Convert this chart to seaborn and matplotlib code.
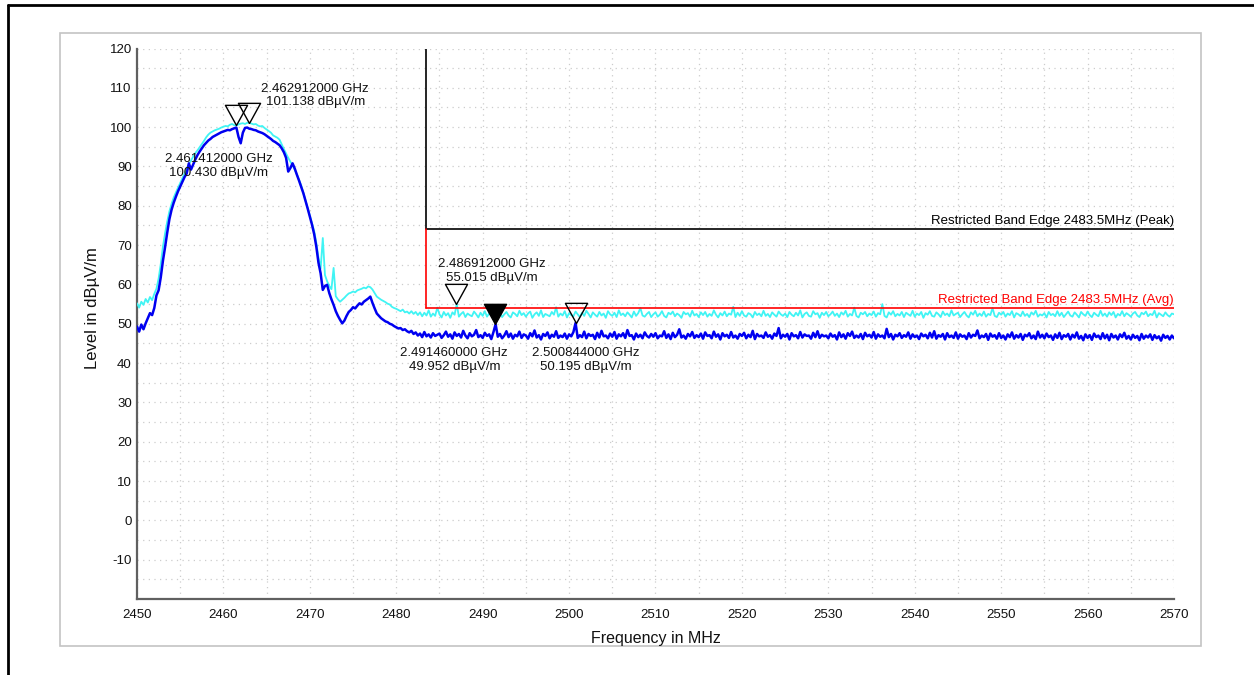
import numpy as np
import matplotlib
matplotlib.use("Agg")
import matplotlib.pyplot as plt
from matplotlib.lines import Line2D
from matplotlib.patches import Rectangle
from matplotlib.ticker import MultipleLocator, FixedLocator
import seaborn as sns

# ---------------------------------------------------------------- data
# Sweep grid of the analyser (MHz), 0.25 MHz per bin
freq_mhz = np.arange(2450.0, 2570.001, 0.25)

# Peak detector trace (dBuV/m), one row = 5 MHz
peak_dbuv = [
    55.2, 54.1, 55.6, 54.8, 56.3, 55.4, 56.8, 56.0, 57.6, 58.9, 61.5, 65.2, 69.6, 73.0, 76.0, 78.6, 80.5, 82.1, 83.4, 84.6,
    85.8, 87.0, 88.2, 89.4, 90.6, 91.5, 92.5, 93.4, 94.1, 94.9, 95.7, 96.5, 97.4, 98.1, 98.6, 98.9, 99.2, 99.4, 99.6, 99.9,
    100.1, 100.3, 100.2, 100.6, 100.8, 100.5, 100.4, 100.7, 100.9, 101.0, 100.8, 101.1, 101.1, 100.9, 100.7, 100.8, 100.4, 100.2, 100.3, 99.8,
    99.4, 99.0, 98.6, 97.9, 97.6, 97.3, 96.8, 95.6, 94.4, 93.3, 92.2, 91.2, 90.3, 89.2, 88.0, 86.6, 85.2, 83.3, 81.5, 79.4,
    77.5, 75.5, 73.6, 70.6, 66.8, 64.0, 71.8, 62.4, 60.8, 59.6, 58.8, 64.2, 57.0, 56.2, 55.6, 56.1, 56.6, 57.2, 57.7, 57.9,
    58.2, 58.0, 58.5, 58.7, 58.9, 59.2, 59.0, 59.5, 59.3, 58.7, 57.8, 56.9, 56.5, 56.1, 55.8, 55.5, 55.1, 54.9, 54.3, 54.0,
    53.8, 53.5, 53.2, 53.6, 52.9, 53.1, 52.6, 53.2, 52.5, 53.0, 52.2, 52.9, 51.9, 52.8, 52.1, 53.4, 51.8, 52.6, 52.0, 54.1,
    52.4, 51.6, 53.0, 52.1, 52.7, 51.5, 52.9, 52.3, 55.0, 51.8, 52.5, 53.0, 51.7, 52.6, 52.2, 51.9, 53.1, 52.4, 51.6, 52.8,
    52.0, 53.2, 51.8, 52.6, 52.3, 51.4, 53.5, 52.2, 52.8, 51.7, 52.4, 53.0, 52.1, 51.6, 52.9, 52.5, 51.9, 53.3, 52.2, 52.7,
    51.8, 52.6, 53.1, 51.5, 52.4, 52.9, 52.0, 53.4, 51.7, 52.5, 52.2, 51.9, 53.0, 52.3, 54.2, 51.8, 52.6, 52.1, 53.2, 51.6,
    52.7, 52.2, 51.9, 53.1, 52.4, 51.7, 52.8, 52.0, 53.3, 52.5, 51.6, 52.9, 52.3, 51.8, 53.0, 52.1, 52.6, 51.5, 53.2, 52.4,
    52.0, 52.8, 51.7, 53.4, 52.2, 52.6, 51.9, 52.9, 52.3, 51.6, 53.1, 52.0, 52.7, 54.0, 52.1, 51.8, 52.5, 53.0, 51.7, 52.4,
    52.9, 51.8, 52.3, 53.2, 52.0, 51.6, 52.8, 52.4, 53.1, 51.9, 52.6, 52.2, 51.5, 53.0, 52.4, 52.7, 51.8, 53.3, 52.1, 52.5,
    51.7, 52.9, 52.2, 53.0, 51.8, 52.5, 52.0, 53.4, 52.3, 51.6, 52.7, 52.1, 53.1, 51.9, 52.6, 52.3, 54.3, 51.7, 52.8, 52.0,
    53.2, 52.1, 51.8, 52.7, 52.4, 51.6, 53.0, 52.2, 52.6, 51.9, 53.3, 52.0, 52.5, 51.7, 52.9, 52.3, 51.8, 53.1, 52.4, 52.0,
    52.6, 51.7, 53.0, 52.3, 51.9, 52.8, 52.1, 53.4, 51.6, 52.5, 52.9, 52.0, 51.8, 53.2, 52.4, 52.7, 51.5, 52.8, 52.2, 53.0,
    51.9, 52.4, 53.1, 52.0, 52.6, 51.7, 52.9, 52.3, 53.3, 51.8, 52.5, 52.1, 54.1, 52.0, 51.6, 52.8, 52.4, 53.0, 51.9, 52.6,
    52.2, 53.1, 51.8, 52.7, 52.4, 55.0, 52.0, 51.6, 52.9, 52.3, 53.2, 51.9, 52.5, 52.1, 53.0, 51.7, 52.8, 52.4, 52.0, 53.3,
    51.8, 52.6, 52.2, 53.0, 51.5, 52.7, 52.3, 53.2, 52.0, 51.8, 52.9, 52.4, 51.7, 53.1, 52.2, 52.6, 51.9, 53.4, 52.1, 52.5,
    52.8, 51.7, 52.4, 53.0, 52.1, 51.6, 52.9, 52.3, 53.3, 51.9, 52.6, 52.0, 53.1, 51.8, 52.5, 52.2, 54.0, 52.0, 51.7, 52.8,
    52.3, 53.0, 51.8, 52.6, 52.2, 53.2, 51.6, 52.7, 52.4, 51.9, 53.1, 52.0, 52.5, 51.7, 52.9, 52.3, 53.3, 51.8, 52.4, 52.1,
    52.7, 51.6, 53.0, 52.2, 52.5, 51.9, 53.2, 52.0, 52.8, 51.7, 52.4, 53.1, 52.1, 51.8, 52.9, 52.3, 51.6, 53.0, 52.4, 52.0,
    53.1, 52.2, 51.7, 52.8, 52.3, 51.9, 53.3, 52.0, 52.6, 51.8, 52.9, 52.2, 53.0, 51.6, 52.5, 52.1, 53.2, 51.9, 52.7, 52.3,
    51.8, 52.6, 53.0, 52.1, 51.7, 52.8, 52.4, 53.1, 51.9, 52.5, 52.2, 53.3, 51.6, 52.7, 52.3, 51.9, 52.9, 52.2, 51.8, 52.6,
    52.4,
]

# Average detector trace (dBuV/m), one row = 5 MHz
avg_dbuv = [
    49.3, 48.0, 49.8, 48.6, 50.1, 51.4, 52.7, 52.2, 54.0, 57.2, 58.5, 61.8, 66.0, 69.5, 73.2, 76.6, 79.0, 80.8, 82.3, 83.7,
    84.9, 86.1, 87.3, 88.2, 90.8, 89.2, 90.5, 91.8, 92.9, 93.8, 94.6, 95.4, 96.0, 96.6, 97.0, 97.5, 97.8, 98.1, 98.4, 98.7,
    98.9, 99.1, 99.3, 99.2, 99.5, 99.7, 99.9, 97.5, 95.9, 98.6, 99.8, 99.9, 99.6, 99.5, 99.3, 99.2, 98.9, 98.7, 98.5, 98.2,
    97.8, 97.4, 97.0, 96.5, 96.2, 95.8, 95.4, 94.6, 93.6, 92.2, 88.7, 89.6, 90.8, 89.5, 87.9, 86.4, 84.8, 83.2, 81.3, 79.3,
    77.3, 75.2, 72.8, 69.6, 65.5, 62.8, 58.6, 59.6, 59.9, 57.8, 56.2, 54.8, 53.2, 52.0, 51.0, 50.1, 50.8, 52.0, 53.0, 53.5,
    54.2, 53.9, 54.6, 55.2, 54.9, 55.6, 56.0, 56.4, 56.9, 55.3, 53.9, 52.6, 52.0, 51.4, 51.0, 50.6, 50.4, 50.0, 49.8, 49.4,
    49.1, 48.8, 48.9, 48.4, 48.6, 48.1, 47.8, 48.2, 47.4, 47.8, 47.0, 47.5, 46.6, 47.9, 46.8, 47.3, 46.5, 47.6, 46.9, 47.2,
    47.5, 46.4, 47.1, 48.0, 46.7, 47.3, 46.2, 47.8, 46.9, 47.4, 46.5, 48.2, 47.0, 46.3, 47.6, 46.8, 47.2, 48.4, 46.6, 47.1,
    46.4, 47.7, 46.9, 47.3, 46.1, 47.9, 49.9, 46.7, 47.4, 46.3, 47.0, 48.1, 46.6, 47.5, 46.2, 47.2, 46.8, 48.0, 46.4, 47.3,
    47.0, 46.2, 47.6, 46.8, 48.3, 46.5, 47.1, 46.0, 47.4, 46.9, 47.8, 46.3, 47.2, 46.7, 48.1, 46.4, 47.0, 46.6, 47.5, 46.2,
    47.3, 46.8, 47.9, 50.2, 46.4, 47.1, 46.6, 48.0, 46.3, 47.4, 46.9, 47.2, 46.1, 47.7, 46.5, 48.2, 46.8, 47.0, 46.3, 47.5,
    46.7, 47.9, 46.2, 47.3, 46.8, 47.6, 46.4, 48.4, 46.9, 47.1, 46.0, 47.5, 46.6, 47.2, 46.3, 47.8, 46.9, 46.5, 47.4, 46.7,
    47.6, 46.3, 47.0, 46.8, 48.1, 46.4, 47.3, 46.1, 47.7, 46.6, 47.2, 48.6, 46.5, 47.0, 46.2, 47.4, 46.8, 47.9, 46.4, 47.1,
    46.6, 47.5, 46.2, 47.8, 46.9, 47.1, 46.3, 48.0, 46.7, 47.3, 46.0, 47.6, 46.8, 47.2, 46.4, 47.9, 46.5, 47.0, 46.2, 47.4,
    46.9, 47.7, 46.3, 47.2, 46.6, 48.2, 46.1, 47.4, 46.8, 47.0, 46.4, 47.8, 46.7, 47.1, 46.2, 47.5, 46.9, 48.9, 46.3, 47.2,
    46.7, 47.4, 46.0, 47.6, 46.8, 47.1, 46.3, 47.9, 46.5, 47.3, 46.9, 47.0, 46.2, 47.7, 46.6, 48.1, 46.4, 47.2, 46.8, 47.0,
    46.3, 47.5, 46.7, 47.1, 46.0, 47.8, 46.6, 47.3, 46.2, 47.6, 46.9, 48.0, 46.4, 47.0, 46.5, 47.4, 46.1, 47.7, 46.8, 47.2,
    46.5, 47.9, 46.2, 47.3, 46.7, 47.0, 46.3, 48.7, 46.6, 47.4, 46.0, 47.2, 46.8, 47.6, 46.4, 47.1, 46.7, 47.8, 46.2, 47.3,
    46.6, 47.0, 46.1, 47.5, 46.8, 47.2, 46.3, 47.7, 46.5, 48.1, 46.2, 47.1, 46.7, 47.4, 46.0, 47.6, 46.6, 47.0, 46.4, 47.8,
    46.2, 47.3, 46.7, 47.0, 46.1, 47.6, 46.5, 47.2, 46.9, 48.3, 46.3, 47.0, 46.6, 47.4, 45.9, 47.5, 46.7, 47.1, 46.2, 47.6,
    46.4, 47.0, 46.0, 47.3, 46.6, 47.8, 46.2, 47.1, 46.5, 47.4, 45.9, 47.2, 46.8, 47.6, 46.3, 47.0, 46.1, 48.0, 46.5, 47.2,
    46.3, 47.5, 46.6, 47.0, 45.9, 47.3, 46.4, 47.7, 46.1, 47.1, 46.7, 47.4, 46.0, 47.2, 46.5, 47.8, 46.2, 46.9, 45.8, 47.3,
    46.4, 47.1, 45.9, 47.5, 46.6, 47.0, 46.1, 47.6, 46.3, 47.2, 45.8, 47.4, 46.5, 47.0, 46.0, 47.3, 46.6, 47.7, 46.2, 46.9,
    46.0, 47.2, 46.4, 46.9, 45.8, 47.4, 46.2, 47.0, 46.5, 47.3, 45.9, 47.1, 46.3, 46.8, 45.7, 47.2, 46.4, 46.9, 46.0, 47.0,
    46.3,
]

# Markers
marker_freq_mhz = [2461.412, 2462.912, 2486.912, 2491.460, 2500.844]
marker_level = [100.430, 101.138, 55.015, 49.952, 50.195]
marker_filled = [False, False, False, True, False]

# Limit lines
band_edge_mhz = 2483.5
peak_limit = 74.0
avg_limit = 54.0
peak_limit_label = "Restricted Band Edge 2483.5MHz (Peak)"
avg_limit_label = "Restricted Band Edge 2483.5MHz (Avg)"

x_ticks = list(range(2450, 2571, 10))
y_ticks = list(range(-10, 121, 10))

# ---------------------------------------------------------------- style
sns.set_style("white")
plt.rcParams["font.family"] = ["Liberation Sans", "DejaVu Sans"]
plt.rcParams["axes.unicode_minus"] = False

W, H = 1254, 675
fig = plt.figure(figsize=(W / 100, H / 100), dpi=100)
fig.patch.set_facecolor("white")

# outer page frame
fig.add_artist(Line2D([7.5 / W, 7.5 / W], [0, 1 - 4.5 / H], transform=fig.transFigure,
                      color="black", lw=2.0))
fig.add_artist(Line2D([7.5 / W, 1], [1 - 4.5 / H, 1 - 4.5 / H], transform=fig.transFigure,
                      color="black", lw=2.0))
# chart panel frame
fig.add_artist(Rectangle((60 / W, 1 - 646 / H), (1201 - 60) / W, (646 - 33) / H,
                         transform=fig.transFigure, fill=False, edgecolor="#c4c4c4", lw=1.2))

ax = fig.add_axes([137 / W, 1 - 599 / H, (1174 - 137) / W, (599 - 48.5) / H])
ax.set_facecolor("white")

# traces
sns.lineplot(x=freq_mhz, y=peak_dbuv, ax=ax, color="#40f4f4", linewidth=1.3,
             estimator=None, sort=False, zorder=3)
sns.lineplot(x=freq_mhz, y=avg_dbuv, ax=ax, color="#0000f0", linewidth=1.8,
             estimator=None, sort=False, zorder=4)

# limit lines
ax.plot([band_edge_mhz, band_edge_mhz], [peak_limit, 120], color="black", lw=1.2, zorder=5)
ax.plot([band_edge_mhz, 2570], [peak_limit, peak_limit], color="black", lw=1.2, zorder=5)
ax.plot([band_edge_mhz, band_edge_mhz], [avg_limit, peak_limit], color="#ff0000", lw=1.2, zorder=5)
ax.plot([band_edge_mhz, 2570], [avg_limit, avg_limit], color="#ff0000", lw=1.2, zorder=5)
ax.annotate(peak_limit_label, xy=(2570, peak_limit), xytext=(0, 1.5), textcoords="offset points",
            ha="right", va="bottom", fontsize=9.5, color="black")
ax.annotate(avg_limit_label, xy=(2570, avg_limit), xytext=(0, 1.5), textcoords="offset points",
            ha="right", va="bottom", fontsize=9.5, color="#ff0000")

# triangle marker with its tip on the measured point
tri = [(0, 0), (-1.1, 2.0), (1.1, 2.0), (0, 0)]
label_offsets = [(-12, -29), (48, 19.5), (26, 24), (-29.5, -26), (7, -26.5)]
for f, v, filled, off in zip(marker_freq_mhz, marker_level, marker_filled, label_offsets):
    ax.plot([f], [v], marker=tri, markersize=29, linestyle="none",
            markerfacecolor="black" if filled else "none",
            markeredgecolor="black", markeredgewidth=1.0, zorder=6)
    ax.annotate(f"{f / 1000:.9f} GHz\n{v:.3f} dB\u00b5V/m", xy=(f, v), xytext=off,
                textcoords="offset points", ha="center", va="center",
                multialignment="center", fontsize=9.5, color="#111111", zorder=7)

# axes, ticks, grid
ax.set_xlim(2450, 2570)
ax.set_ylim(-20, 120)
ax.xaxis.set_major_locator(FixedLocator(x_ticks))
ax.yaxis.set_major_locator(FixedLocator(y_ticks))
ax.xaxis.set_minor_locator(MultipleLocator(5))
ax.yaxis.set_minor_locator(MultipleLocator(5))
ax.grid(True, which="both", color="#cccccc", linestyle=(0, (1, 3.5)), linewidth=0.9)
ax.set_axisbelow(True)

for side in ("top", "right"):
    ax.spines[side].set_visible(False)
for side in ("left", "bottom"):
    ax.spines[side].set_color("#606060")
    ax.spines[side].set_linewidth(1.6)

ax.tick_params(axis="both", which="both", direction="inout", length=4.5, width=1.0,
               color="#333333", labelsize=9.5, labelcolor="#111111")
ax.tick_params(axis="y", which="both", pad=1.5)
ax.tick_params(axis="x", which="both", pad=5)

ax.set_xlabel("")
ax.set_ylabel("")
fig.text(655.5 / W, 1 - 638 / H, "Frequency in MHz", ha="center", va="center",
         fontsize=11.5, color="#111111")
fig.text(92 / W, 1 - 308 / H, "Level in dB\u00b5V/m", ha="center", va="center",
         rotation=90, fontsize=12, color="#111111")

fig.savefig("out.png", dpi=100, facecolor="white")
